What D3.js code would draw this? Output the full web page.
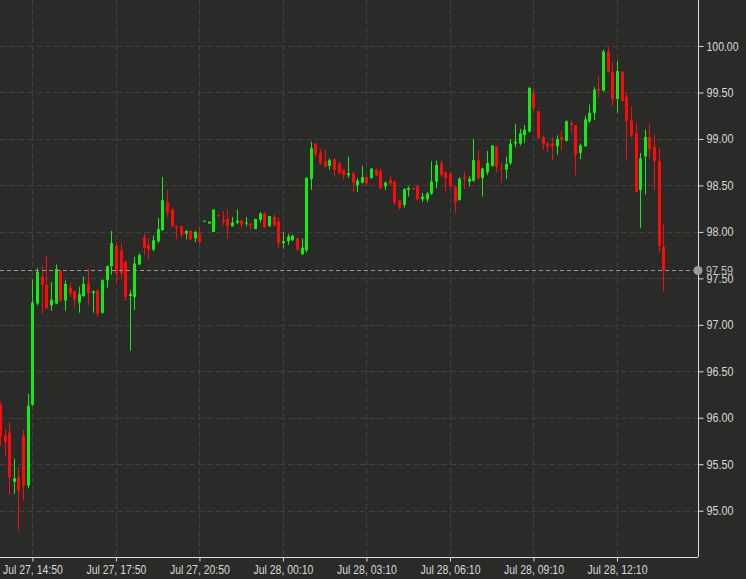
<!DOCTYPE html>
<html><head><meta charset="utf-8">
<script src="https://cdn.jsdelivr.net/npm/d3@7"></script>
<style>
html,body{margin:0;padding:0;background:#2a2b28;}
svg{display:block;}
text{font-family:"Liberation Sans Narrow","Arial Narrow","Liberation Sans",sans-serif;}
</style></head>
<body><svg id="c" width="746" height="579"></svg>
<script>
const opens = [96.14,95.81,95.84,95.31,95.36,95.81,95.27,96.14,97.23,97.52,97.43,97.21,97.23,97.58,97.26,97.40,97.36,97.24,97.31,97.45,97.34,97.37,97.13,97.48,97.63,97.85,97.80,97.68,97.31,97.30,97.65,97.94,97.86,97.81,97.90,98.02,98.32,98.24,98.06,98.06,97.98,98.01,97.93,97.98,98.11,98.09,98.00,98.18,98.13,98.14,98.06,98.10,98.12,98.09,98.09,98.03,98.13,98.20,98.06,98.16,98.11,97.88,97.90,97.91,97.93,97.76,97.80,98.57,98.95,98.85,98.76,98.71,98.78,98.74,98.67,98.61,98.63,98.50,98.53,98.59,98.58,98.67,98.65,98.49,98.56,98.54,98.34,98.29,98.45,98.47,98.49,98.35,98.35,98.41,98.54,98.74,98.64,98.63,98.49,98.34,98.59,98.54,98.55,98.77,98.58,98.64,98.71,98.92,98.69,98.67,98.74,98.95,98.95,99.04,99.08,99.49,99.30,99.02,98.95,98.95,98.92,99.02,98.98,99.17,99.15,98.85,98.92,99.19,99.28,99.54,99.52,99.94,99.72,99.43,99.72,99.45,99.20,99.06,98.45,98.81,99.02,98.91,98.76,97.84];
const highs = [96.17,95.88,95.95,95.56,95.47,95.87,96.26,97.49,97.61,97.63,97.74,97.46,97.65,97.59,97.48,97.45,97.37,97.41,97.52,97.60,97.37,97.38,97.49,97.64,98.01,97.89,97.88,97.69,97.37,97.73,97.77,97.98,97.93,97.96,98.15,98.59,98.45,98.25,98.07,98.07,98.02,98.02,98.01,98.05,98.12,98.11,98.24,98.19,98.22,98.24,98.16,98.24,98.13,98.16,98.09,98.14,98.21,98.21,98.17,98.19,98.15,98.00,97.98,97.97,97.94,97.93,98.59,98.97,98.96,98.89,98.89,98.79,98.79,98.75,98.67,98.81,98.64,98.58,98.71,98.61,98.69,98.68,98.69,98.54,98.60,98.55,98.34,98.47,98.49,98.48,98.50,98.42,98.43,98.76,98.77,98.77,98.65,98.63,98.49,98.59,98.65,98.60,99.00,98.88,98.69,98.87,98.93,98.92,98.74,98.81,99.00,99.16,99.11,99.15,99.56,99.55,99.30,99.04,98.97,99.02,99.04,99.09,99.20,99.20,99.15,98.95,99.25,99.37,99.56,99.68,99.96,100.00,99.83,99.84,99.73,99.50,99.35,99.17,98.85,99.10,99.17,99.05,98.91,98.08];
const lows = [95.70,95.59,95.17,95.18,94.79,95.11,95.24,96.13,97.21,97.12,97.17,97.15,97.22,97.25,97.15,97.30,97.19,97.13,97.30,97.21,97.13,97.08,97.12,97.40,97.54,97.43,97.50,97.26,96.72,97.16,97.64,97.75,97.70,97.79,97.88,98.01,98.16,98.05,97.92,97.94,97.92,97.91,97.89,97.88,98.11,98.09,98.00,98.16,98.07,97.93,98.06,98.08,98.04,98.06,98.02,98.03,98.10,98.04,98.06,98.06,97.82,97.82,97.86,97.90,97.80,97.75,97.78,98.45,98.80,98.72,98.70,98.67,98.59,98.62,98.56,98.58,98.43,98.43,98.52,98.50,98.57,98.60,98.46,98.45,98.50,98.29,98.24,98.26,98.38,98.45,98.34,98.32,98.32,98.40,98.47,98.59,98.44,98.45,98.20,98.34,98.46,98.49,98.54,98.56,98.38,98.61,98.70,98.64,98.54,98.57,98.72,98.91,98.93,98.96,99.07,99.30,99.00,98.88,98.86,98.77,98.83,98.88,98.97,99.06,98.61,98.78,98.92,99.17,99.20,99.44,99.51,99.71,99.35,99.28,99.40,98.78,99.02,98.42,98.04,98.40,98.79,98.45,97.78,97.36];
const closes = [95.80,95.74,95.36,95.35,95.22,95.27,96.13,97.24,97.57,97.43,97.18,97.27,97.60,97.26,97.44,97.34,97.27,97.33,97.44,97.34,97.36,97.12,97.48,97.63,97.88,97.55,97.55,97.30,97.33,97.66,97.75,97.83,97.81,97.91,98.03,98.34,98.21,98.06,98.04,97.97,98.01,97.92,98.00,97.89,98.12,98.11,98.24,98.17,98.11,98.06,98.10,98.12,98.08,98.10,98.07,98.14,98.20,98.05,98.17,98.07,97.88,97.90,97.95,97.96,97.81,97.83,98.58,98.90,98.83,98.74,98.70,98.77,98.67,98.63,98.61,98.63,98.53,98.55,98.59,98.52,98.68,98.61,98.47,98.53,98.52,98.31,98.26,98.46,98.47,98.46,98.35,98.38,98.41,98.54,98.72,98.61,98.58,98.49,98.32,98.57,98.57,98.57,98.77,98.58,98.68,98.74,98.93,98.70,98.68,98.73,98.95,98.97,99.06,99.10,99.55,99.33,99.01,98.95,98.92,98.92,99.00,98.99,99.19,99.15,98.83,98.93,99.21,99.28,99.53,99.52,99.94,99.72,99.43,99.73,99.41,99.19,99.04,98.43,98.79,99.02,98.89,98.76,97.85,97.59];
const xTickIndex = [7,25,43,61,79,97,115,133];
const xTickLabels = ["Jul 27, 14:50","Jul 27, 17:50","Jul 27, 20:50","Jul 28, 00:10","Jul 28, 03:10","Jul 28, 06:10","Jul 28, 09:10","Jul 28, 12:10"];
const yTicks = [95,95.5,96,96.5,97,97.5,98,98.5,99,99.5,100];
const lastPrice = 97.59;

const W = 746, H = 579;
const plotR = 698, plotB = 557;
const svg = d3.select("#c");
svg.append("rect").attr("width",W).attr("height",H).attr("fill","#2a2b28");

const x = d3.scaleLinear().domain([7,133]).range([32.4,617]);
const y = d3.scaleLinear().domain([95,100]).range([510.7,46]);

const clip = svg.append("defs").append("clipPath").attr("id","pc");
clip.append("rect").attr("x",0).attr("y",0).attr("width",plotR).attr("height",plotB);

const grid = svg.append("g");
grid.selectAll("line.h").data(yTicks).enter().append("line")
  .attr("x1",0).attr("x2",plotR).attr("y1",d=>Math.round(y(d))+0.5).attr("y2",d=>Math.round(y(d))+0.5)
  .attr("stroke","#41423f").attr("stroke-width",1).attr("stroke-dasharray","6,3");
grid.selectAll("line.v").data(xTickIndex).enter().append("line")
  .attr("y1",0).attr("y2",plotB).attr("x1",d=>Math.round(x(d))+0.5).attr("x2",d=>Math.round(x(d))+0.5)
  .attr("stroke","#41423f").attr("stroke-width",1).attr("stroke-dasharray","6,3");

const data = opens.map((o,i)=>({i,o,h:highs[i],l:lows[i],c:closes[i]}));
const green = "#12ec12", red = "#ff0a0a";
const cg = svg.append("g").attr("clip-path","url(#pc)");
const cs = cg.selectAll("g.c").data(data).enter().append("g");
cs.append("line")
  .attr("x1",d=>Math.round(x(d.i))+0.5).attr("x2",d=>Math.round(x(d.i))+0.5)
  .attr("y1",d=>y(d.h)).attr("y2",d=>y(d.l))
  .attr("stroke",d=>d.c>=d.o?green:red).attr("stroke-width",1);
cs.append("rect")
  .attr("x",d=>Math.round(x(d.i))-1).attr("width",3)
  .attr("y",d=>y(Math.max(d.o,d.c)))
  .attr("height",d=>Math.max(1,y(Math.min(d.o,d.c))-y(Math.max(d.o,d.c))))
  .attr("fill",d=>d.c>=d.o?green:red);

// price line
const py = Math.round(y(lastPrice))+0.5;
svg.append("line").attr("x1",0).attr("x2",plotR).attr("y1",py).attr("y2",py)
  .attr("stroke","#9a9a9a").attr("stroke-width",1).attr("stroke-dasharray","4,3");

const FONT = '"Liberation Sans Narrow","Arial Narrow","Liberation Sans",sans-serif';
// axes
const yAxis = d3.axisRight(y).tickValues(yTicks).tickFormat(d3.format(".2f")).tickSize(5).tickPadding(3);
const ga = svg.append("g").attr("transform",`translate(${plotR+0.5},0)`).call(yAxis);
ga.select(".domain").attr("d",`M0,0V${plotB}`).attr("stroke","#dcdcdc");
ga.selectAll(".tick line").attr("stroke","#dcdcdc");
ga.selectAll(".tick text").attr("fill","#d8d8d8").attr("font-size",12.5).attr("font-family",FONT)
  .attr("textLength",d=>d>=100?32:27).attr("lengthAdjust","spacingAndGlyphs");

const xAxis = d3.axisBottom(x).tickValues(xTickIndex).tickFormat((d,k)=>xTickLabels[k]).tickSize(4).tickPadding(4);
const gx = svg.append("g").attr("transform",`translate(0,${plotB+0.5})`).call(xAxis);
gx.select(".domain").attr("d",`M0,0H${plotR}`).attr("stroke","#dcdcdc");
gx.selectAll(".tick line").attr("stroke","#dcdcdc");
gx.selectAll(".tick text").attr("fill","#d8d8d8").attr("font-size",12.5).attr("font-family",FONT)
  .attr("textLength",60).attr("lengthAdjust","spacingAndGlyphs");

// last price marker and label
svg.append("circle").attr("cx",plotR).attr("cy",py).attr("r",4.5).attr("fill","#9a9a9a");
svg.append("text").attr("x",plotR+8).attr("y",py).attr("dy","0.32em")
  .attr("fill","#bdbdbd").attr("font-size",12.5).attr("font-family",FONT)
  .attr("textLength",27).attr("lengthAdjust","spacingAndGlyphs")
  .text(d3.format(".2f")(lastPrice));
</script></body></html>
